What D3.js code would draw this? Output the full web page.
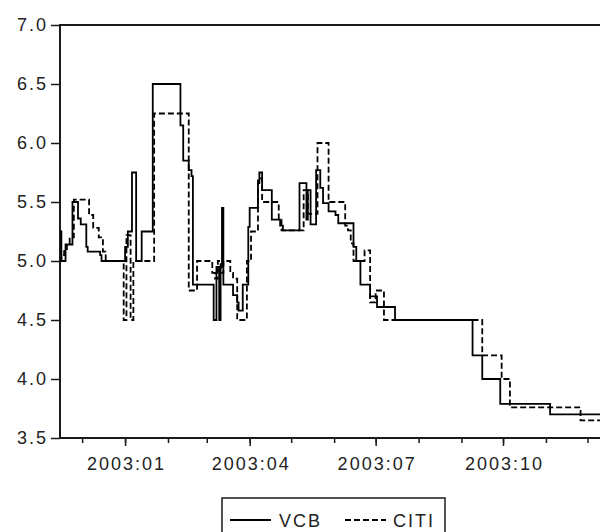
<!DOCTYPE html>
<html><head><meta charset="utf-8">
<script src="https://cdn.jsdelivr.net/npm/d3@7/dist/d3.min.js"></script>
<style>body{margin:0;background:#fff}svg{display:block}</style>
</head><body>
<svg id="c" width="600" height="532"></svg>
<script>
const seriesNames = ["VCB", "CITI"];

const vcbDates = ["2002-11-15","2002-11-16","2002-11-19","2002-11-24","2002-11-28","2002-11-30","2002-12-04","2002-12-05","2002-12-14","2002-12-15",
"2003-01-01","2003-01-03","2003-01-06","2003-01-09","2003-01-13","2003-01-21","2003-02-10","2003-02-12","2003-02-16","2003-02-18","2003-02-19",
"2003-03-06","2003-03-08","2003-03-10","2003-03-11","2003-03-12","2003-03-13","2003-03-20","2003-03-23","2003-03-24","2003-03-27","2003-03-31",
"2003-04-01","2003-04-07","2003-04-08","2003-04-10","2003-04-17","2003-04-23","2003-04-25","2003-05-07","2003-05-12","2003-05-13","2003-05-15",
"2003-05-19","2003-05-22","2003-05-24","2003-05-28","2003-06-02","2003-06-04","2003-06-15","2003-06-17","2003-06-20","2003-06-27","2003-07-02",
"2003-07-15","2003-09-09","2003-09-16","2003-09-29","2003-11-04","2003-12-31"];
const vcbValues = [5.25,5.0,5.14,5.5,5.36,5.31,5.12,5.08,5.05,5.0,
5.12,5.25,5.75,5.0,5.25,6.5,6.15,5.85,5.77,5.72,4.8,
4.5,4.95,4.5,4.95,5.45,4.8,4.71,4.65,4.58,4.8,5.29,
5.45,5.66,5.75,5.6,5.35,5.3,5.26,5.66,5.35,5.6,5.31,
5.77,5.62,5.49,5.42,5.39,5.32,5.12,5.0,4.8,4.7,4.61,
4.5,4.2,4.0,3.79,3.7,3.7];

const citiDates = ["2002-11-15","2002-11-16","2002-11-18","2002-11-20","2002-11-22","2002-11-25","2002-12-06","2002-12-09","2002-12-13","2002-12-16",
"2002-12-18","2002-12-31","2003-01-02","2003-01-05","2003-01-07","2003-01-22","2003-02-16","2003-02-22","2003-03-05","2003-03-07","2003-03-09",
"2003-03-11","2003-03-13","2003-03-18","2003-03-20","2003-03-23","2003-03-30","2003-04-02","2003-04-07","2003-04-10","2003-04-22","2003-04-24",
"2003-05-10","2003-05-13","2003-05-20","2003-05-28","2003-06-09","2003-06-11","2003-06-13","2003-06-15","2003-06-23","2003-06-27","2003-07-01",
"2003-07-07","2003-09-16","2003-09-30","2003-10-06","2003-11-26","2003-12-31"];
const citiValues = [5.0,5.05,5.1,5.15,5.2,5.52,5.39,5.28,5.2,5.08,
5.0,4.5,5.22,4.5,5.0,6.25,4.75,5.0,4.9,4.85,5.0,
4.9,5.0,4.9,4.85,4.5,5.0,5.25,5.7,5.5,5.35,5.26,
5.6,5.4,6.0,5.5,5.3,5.26,5.15,5.0,5.09,4.65,4.75,
4.5,4.2,4.0,3.76,3.65,3.65];

const yTickValues = [3.5, 4.0, 4.5, 5.0, 5.5, 6.0, 6.5, 7.0];
const xTickLabels = ["2003:01", "2003:04", "2003:07", "2003:10"];
const xDomain = ["2002-11-15", "2003-12-31"];

const parse = d3.utcParse("%Y-%m-%d");
const svg = d3.select("#c");
const M = {left: 60, top: 25, right: 629, bottom: 438};

const x = d3.scaleUtc().domain(xDomain.map(parse)).range([M.left, M.right]);
const y = d3.scaleLinear().domain([3.5, 7.0]).range([M.bottom, M.top]);

const font = "'Liberation Sans', Arial, sans-serif";

// frame
svg.append("rect").attr("x", M.left).attr("y", M.top)
  .attr("width", M.right - M.left).attr("height", M.bottom - M.top)
  .attr("fill", "none").attr("stroke", "#1a1a1a").attr("stroke-width", 2);

// y axis
const yAxis = d3.axisLeft(y).tickValues(yTickValues).tickSize(9).tickPadding(5)
  .tickFormat(d3.format(".1f"));
const gy = svg.append("g").attr("transform", `translate(${M.left},0)`).call(yAxis);
gy.select(".domain").remove();
gy.selectAll("line").attr("stroke", "#1a1a1a").attr("stroke-width", 1.5);
gy.selectAll("text").attr("font-family", font).attr("font-size", 18)
  .attr("letter-spacing", "2px").attr("fill", "#222").attr("dx", "2");

// x axis: minor monthly ticks
const months = d3.utcMonth.range(parse("2002-11-16"), parse("2003-12-31"));
const gxm = svg.append("g").attr("transform", `translate(0,${M.bottom})`)
  .call(d3.axisBottom(x).tickValues(months).tickSize(5).tickFormat(""));
gxm.select(".domain").remove();
gxm.selectAll("line").attr("stroke", "#1a1a1a").attr("stroke-width", 1.5);

// x axis: major quarterly ticks with labels
const labelParse = d3.utcParse("%Y:%m");
const majors = xTickLabels.map(labelParse);
const gx = svg.append("g").attr("transform", `translate(0,${M.bottom})`)
  .call(d3.axisBottom(x).tickValues(majors).tickSize(8).tickPadding(11)
    .tickFormat(d3.utcFormat("%Y:%m")));
gx.select(".domain").remove();
gx.selectAll("line").attr("stroke", "#1a1a1a").attr("stroke-width", 1.5);
gx.selectAll("text").attr("font-family", font).attr("font-size", 18)
  .attr("letter-spacing", "2px").attr("fill", "#222").attr("dx", "1");

// series
const series = [
  {name: seriesNames[0], dates: vcbDates, values: vcbValues, dash: null},
  {name: seriesNames[1], dates: citiDates, values: citiValues, dash: "6,3"}
];
const line = d3.line().curve(d3.curveStepAfter)
  .x(d => x(d[0])).y(d => y(d[1]));

svg.append("defs").append("clipPath").attr("id", "clip")
  .append("rect").attr("x", M.left).attr("y", M.top)
  .attr("width", M.right - M.left).attr("height", M.bottom - M.top);

const plot = svg.append("g").attr("clip-path", "url(#clip)");
series.slice().reverse().forEach(s => {
  const pts = s.dates.map((d, i) => [parse(d), s.values[i]]);
  plot.append("path").datum(pts).attr("d", line)
    .attr("fill", "none").attr("stroke", "#000").attr("stroke-width", 1.8)
    .attr("stroke-dasharray", s.dash);
});

// legend
const lg = svg.append("g");
lg.append("rect").attr("x", 222).attr("y", 498).attr("width", 223).attr("height", 50)
  .attr("fill", "none").attr("stroke", "#1a1a1a").attr("stroke-width", 1.5);
const legendX = [{lx: 230, tx: 279}, {lx: 345, tx: 393}];
series.forEach((s, i) => {
  lg.append("line").attr("x1", legendX[i].lx).attr("x2", legendX[i].lx + 41)
    .attr("y1", 520).attr("y2", 520).attr("stroke", "#000").attr("stroke-width", 1.8)
    .attr("stroke-dasharray", s.dash);
  lg.append("text").attr("x", legendX[i].tx).attr("y", 527).text(s.name)
    .attr("font-family", font).attr("font-size", 18).attr("letter-spacing", "2px").attr("fill", "#222");
});
</script>
</body></html>
